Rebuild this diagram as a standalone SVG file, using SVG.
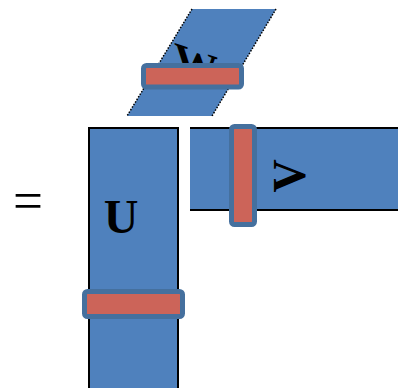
<svg xmlns="http://www.w3.org/2000/svg" width="398" height="388" viewBox="0 0 398 388">
<style>
.blk{fill:#4f81bd}
.bar{fill:#cc6459;stroke:#45709e;stroke-width:5}
.lbl{font-family:"Liberation Serif",serif;font-weight:bold;fill:#000}
.dot{stroke:#000;stroke-width:1.5;stroke-dasharray:1.5 1.5;fill:none}
</style>
<text x="13" y="219" style="font-family:'Liberation Serif',serif;font-size:54px" textLength="30" lengthAdjust="spacingAndGlyphs">=</text>
<g id="W">
<polygon class="blk" points="192,9 276,9 212,116 127,116"/>
<line class="dot" x1="192" y1="9" x2="127" y2="116"/>
<line class="dot" x1="276" y1="9" x2="212" y2="116"/>
<text class="lbl" font-size="44" text-anchor="middle" transform="translate(196,79) skewY(19)">W</text>
<rect class="bar" x="143.5" y="65.5" width="98" height="21.5" rx="3"/>
</g>
<g id="U">
<rect class="blk" x="89" y="128" width="89" height="270" stroke="#000" stroke-width="2"/>
<text class="lbl" x="121" y="233" font-size="48" text-anchor="middle">U</text>
<rect class="bar" x="84.5" y="291.5" width="98" height="25" rx="3"/>
</g>
<g id="V">
<rect class="blk" x="190" y="128" width="210" height="82"/>
<line x1="190" y1="128" x2="398" y2="128" stroke="#000" stroke-width="2"/>
<line x1="190" y1="210" x2="398" y2="210" stroke="#000" stroke-width="2"/>
<text class="lbl" font-size="46" text-anchor="middle" transform="translate(289,176) rotate(-90)" dy="0.35em">V</text>
<rect class="bar" x="231.5" y="126.5" width="23" height="98" rx="3"/>
</g>
<g id="connectors"/>
</svg>
